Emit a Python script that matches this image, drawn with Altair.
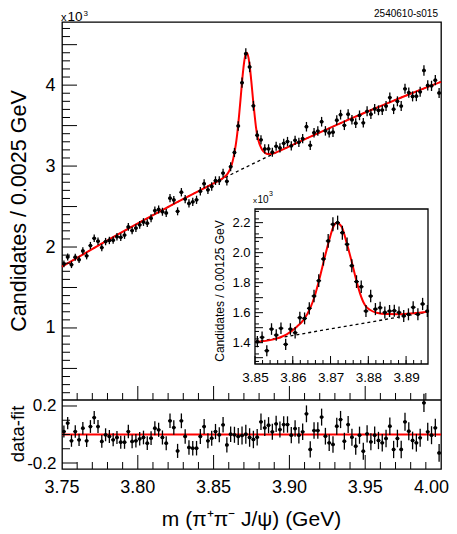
import altair as alt
import pandas as pd

FONT = "Liberation Sans"

# ---------------- data ----------------
# main histogram, 100 bins of 0.0025 GeV from 3.75 to 4.00
counts = [1792, 1878, 1782, 1874, 1844, 1952, 1891, 2018, 2108, 2072,
          1993, 2067, 2081, 2085, 2127, 2120, 2147, 2248, 2204, 2234,
          2274, 2309, 2294, 2355, 2450, 2464, 2436, 2421, 2603, 2581,
          2441, 2677, 2592, 2539, 2558, 2583, 2689, 2783, 2707, 2749,
          2820, 2820, 2914, 2812, 2992, 3168, 3496, 4030, 4389, 4225,
          3745, 3381, 3324, 3212, 3213, 3171, 3245, 3224, 3281, 3303,
          3250, 3318, 3293, 3339, 3486, 3257, 3412, 3433, 3548, 3435,
          3410, 3419, 3567, 3635, 3504, 3641, 3572, 3530, 3627, 3535,
          3677, 3641, 3706, 3689, 3692, 3742, 3847, 3703, 3800, 3742,
          3955, 3908, 3861, 3864, 3918, 4181, 3996, 3991, 4061, 3903]

# residuals (data - fit), in units of 10^3
resid = [0.021, 0.080, -0.044, 0.021, -0.037, 0.044, -0.044, 0.056, 0.119, 0.056,
         -0.049, -0.002, -0.014, -0.037, -0.021, -0.054, -0.054, 0.021, -0.049, -0.044,
         -0.030, -0.021, -0.061, -0.026, 0.044, 0.033, -0.021, -0.061, 0.096, 0.049,
         -0.115, 0.096, -0.014, -0.091, -0.096, -0.096, -0.014, 0.056, -0.044, -0.026,
         0.021, -0.002, 0.068, -0.073, 0.002, -0.002, -0.014, -0.007, 0.002, -0.021,
         -0.035, -0.019, 0.089, 0.047, 0.065, 0.019, 0.075, 0.035, 0.070, 0.070,
         -0.005, 0.042, -0.005, 0.019, 0.145, -0.105, 0.028, 0.028, 0.122, -0.012,
         -0.058, -0.070, 0.058, 0.105, -0.047, 0.070, -0.019, -0.082, -0.005, -0.117,
         0.005, -0.051, -0.005, -0.042, -0.058, -0.028, 0.058, -0.105, -0.028, -0.105,
         0.089, 0.023, -0.042, -0.058, -0.023, 0.222, 0.019, -0.005, 0.047, -0.129]

# fit curve (red) of the main panel
fit_x = [3.75, 3.7625, 3.775, 3.7875, 3.80, 3.8125, 3.825, 3.8375, 3.85, 3.854,
         3.858, 3.859, 3.860, 3.861, 3.862, 3.863, 3.864, 3.865, 3.866, 3.867,
         3.868, 3.869, 3.870, 3.871, 3.872, 3.873, 3.874, 3.875, 3.876, 3.877,
         3.878, 3.879, 3.880, 3.881, 3.882, 3.883, 3.884, 3.885, 3.886, 3.887,
         3.888, 3.889, 3.890, 3.90, 3.9125, 3.925, 3.9375, 3.95, 3.9625, 3.975,
         3.9875, 4.00]
fit_y = [1757, 1894, 2029, 2161, 2291, 2419, 2544, 2667, 2787, 2825,
         2880, 2900, 2930, 2968, 3020, 3095, 3190, 3310, 3470, 3665,
         3875, 4088, 4262, 4372, 4399, 4340, 4206, 4024, 3825, 3640,
         3475, 3360, 3290, 3240, 3203, 3178, 3162, 3153, 3149, 3148,
         3150, 3154, 3160, 3244, 3352, 3457, 3561, 3662, 3760, 3856,
         3950, 4041]

# background (dashed) of the main panel
bg_x = [3.75, 3.7625, 3.775, 3.7875, 3.80, 3.8125, 3.825, 3.8375, 3.85, 3.8625,
        3.875, 3.8875, 3.90, 3.9125, 3.925, 3.9375, 3.95, 3.9625, 3.975, 3.9875, 4.00]
bg_y = [1757, 1894, 2029, 2161, 2291, 2419, 2544, 2667, 2787, 2905,
        3020, 3133, 3244, 3352, 3457, 3561, 3662, 3760, 3856, 3950, 4041]

# inset histogram, bins of 0.00125 GeV from 3.85, in units of 10^3
inset_counts = [1.407, 1.436, 1.347, 1.491, 1.451, 1.496, 1.389, 1.491, 1.467, 1.567,
                1.562, 1.629, 1.711, 1.813, 1.958, 2.078, 2.189, 2.200, 2.133, 2.056,
                1.913, 1.807, 1.773, 1.611, 1.711, 1.624, 1.633, 1.602, 1.611, 1.613,
                1.602, 1.578, 1.589, 1.636, 1.589, 1.658, 1.611]
inset_fit_x = [3.8500, 3.8549, 3.8584, 3.8610, 3.8628, 3.8646, 3.8659, 3.8672, 3.8685, 3.8699,
               3.8707, 3.8716, 3.8730, 3.8743, 3.8756, 3.8768, 3.8778, 3.8791, 3.8805, 3.8822,
               3.8849, 3.8884, 3.8919, 3.8958]
inset_fit_y = [1.405, 1.422, 1.456, 1.505, 1.551, 1.629, 1.718, 1.840, 1.973, 2.107,
               2.170, 2.200, 2.170, 2.062, 1.940, 1.818, 1.729, 1.651, 1.618, 1.600,
               1.591, 1.590, 1.596, 1.606]
inset_bg_x = [3.8500, 3.8958]
inset_bg_y = [1.405, 1.604]

main_x_ticks = [3.75, 3.80, 3.85, 3.90, 3.95, 4.00]
main_x_labels = ["3.75", "3.80", "3.85", "3.90", "3.95", "4.00"]
main_y_ticks = [1000, 2000, 3000, 4000]
res_y_ticks = [-0.2, 0.2]
inset_x_ticks = [3.85, 3.86, 3.87, 3.88, 3.89]
inset_y_ticks = [1.4, 1.6, 1.8, 2.0, 2.2]

# ---------------- tables ----------------
BW = 0.0025
centers = [round(3.75 + BW * (i + 0.5), 6) for i in range(len(counts))]
main_df = pd.DataFrame({"m": centers, "c": counts, "r": resid})
main_df["e"] = main_df["c"] ** 0.5
main_df["lo"] = main_df["c"] - main_df["e"]
main_df["hi"] = main_df["c"] + main_df["e"]
main_df["xl"] = main_df["m"] - BW / 2
main_df["xh"] = main_df["m"] + BW / 2
main_df["re"] = main_df["e"] / 1000.0
main_df["rlo"] = main_df["r"] - main_df["re"]
main_df["rhi"] = main_df["r"] + main_df["re"]

IBW = 0.00125
icenters = [round(3.85 + IBW * (i + 0.5), 6) for i in range(len(inset_counts))]
in_df = pd.DataFrame({"m": icenters, "c": inset_counts})
in_df["e"] = (in_df["c"] * 1000) ** 0.5 / 1000
in_df["lo"] = in_df["c"] - in_df["e"]
in_df["hi"] = in_df["c"] + in_df["e"]
in_df["xl"] = in_df["m"] - IBW / 2
in_df["xh"] = (in_df["m"] + IBW / 2).clip(upper=3.8958)

fit_df = pd.DataFrame({"x": fit_x, "y": fit_y})
bg_df = pd.DataFrame({"x": bg_x, "y": bg_y})
ifit_df = pd.DataFrame({"x": inset_fit_x, "y": inset_fit_y})
ibg_df = pd.DataFrame({"x": inset_bg_x, "y": inset_bg_y})
ONE = pd.DataFrame({"k": [0]})

# ---------------- geometry ----------------
W, H, MH = 379, 447, 378


def XM():
    return alt.Scale(domain=[3.75, 4.0], range=[0, W], nice=False, zero=False)


def YM():
    return alt.Scale(domain=[110, 4780], range=[MH, 0], nice=False, zero=False)


def YR():
    return alt.Scale(domain=[-0.242, 0.242], range=[H, MH], nice=False, zero=False)


def XI():
    return alt.Scale(domain=[3.85, 3.8958], range=[193, 366], nice=False, zero=False)


def YI():
    return alt.Scale(domain=[1.258, 2.291], range=[342, 187], nice=False, zero=False)


def lab_axis(**kw):
    base = dict(ticks=False, domain=False, grid=False, title=None, labelFont=FONT,
                labelColor="black", labelFlush=False, labelOverlap=False, labelBound=False)
    base.update(kw)
    return alt.Axis(**base)


def txt(s, x, y, size, angle=0, align="left", baseline="alphabetic"):
    return alt.Chart(ONE).mark_text(text=s, fontSize=size, font=FONT, angle=angle, align=align,
                                    baseline=baseline, color="black").encode(
        x=alt.value(x), y=alt.value(y))


def xticks(vals, xs, y0, length):
    d = pd.DataFrame({"v": vals})
    return alt.Chart(d).mark_rule(color="black", strokeWidth=1).encode(
        x=alt.X("v:Q", scale=xs, axis=None), y=alt.value(y0), y2=alt.value(y0 - length))


def yticks(vals, ys, x0, length):
    d = pd.DataFrame({"v": vals})
    return alt.Chart(d).mark_rule(color="black", strokeWidth=1).encode(
        y=alt.Y("v:Q", scale=ys, axis=None), x=alt.value(x0), x2=alt.value(x0 + length))


def rng(a, b, step):
    n = int(round((b - a) / step))
    return [round(a + step * i, 6) for i in range(n + 1)]


layers = []

# ---------------- main panel ----------------
mb = alt.Chart(main_df)
m_axis_layer = alt.Chart(pd.DataFrame({"y": [1000]})).mark_point(opacity=0).encode(
    y=alt.Y("y:Q", scale=YM(), axis=lab_axis(values=main_y_ticks, labelExpr="datum.value/1000",
                                              labelFontSize=18, labelPadding=7, orient="left")))
m_errv = mb.mark_rule(color="black", strokeWidth=1.3).encode(
    x=alt.X("m:Q", scale=XM(), axis=None), y=alt.Y("lo:Q", scale=YM(), axis=None), y2="hi:Q")
m_errh = mb.mark_rule(color="black", strokeWidth=1.3).encode(
    x=alt.X("xl:Q", scale=XM(), axis=None), x2="xh:Q", y=alt.Y("c:Q", scale=YM(), axis=None))
m_dots = mb.mark_circle(size=14, color="black", opacity=1).encode(
    x=alt.X("m:Q", scale=XM(), axis=None), y=alt.Y("c:Q", scale=YM(), axis=None))
m_bg = alt.Chart(bg_df).mark_line(color="black", strokeWidth=1.3, strokeDash=[3, 3],
                                  interpolate="monotone").encode(
    x=alt.X("x:Q", scale=XM(), axis=None), y=alt.Y("y:Q", scale=YM(), axis=None))
m_fit = alt.Chart(fit_df).mark_line(color="#ff0000", strokeWidth=2, interpolate="monotone").encode(
    x=alt.X("x:Q", scale=XM(), axis=None), y=alt.Y("y:Q", scale=YM(), axis=None))

y_major = rng(500, 4500, 500)
y_minor = [v for v in rng(200, 4700, 100) if v % 500 != 0]
x_major = rng(3.80, 3.95, 0.05)
x_minor = [v for v in rng(3.76, 3.99, 0.01) if v not in x_major]

layers += [
    m_axis_layer, m_bg, m_fit, m_errv, m_errh, m_dots,
    yticks(y_major, YM(), 0, 15), yticks(y_minor, YM(), 0, 8),
    xticks(x_major, XM(), MH, 14), xticks(x_minor, XM(), MH, 7),
    txt("x", -1, -1, 11), txt("10", 5.5, -1, 13.5), txt("3", 21.5, -6, 8),
    txt("2540610-s015", 376, -5, 10, align="right"),
    txt("Candidates / 0.0025 GeV", -42, 189, 21.5, angle=270, align="center", baseline="middle"),
]

# ---------------- residual panel ----------------
r_axis_layer = alt.Chart(pd.DataFrame({"y": [0.0]})).mark_point(opacity=0).encode(
    y=alt.Y("y:Q", scale=YR(), axis=lab_axis(values=res_y_ticks, labelFontSize=17, labelPadding=6,
                                              orient="left",
                                              labelExpr="datum.value < 0 ? '-' + format(-datum.value, '.1f') : format(datum.value, '.1f')")))
xlab_df = pd.DataFrame({"v": main_x_ticks, "t": main_x_labels})
x_lab_mid = alt.Chart(xlab_df.iloc[:-1]).mark_text(fontSize=18, font=FONT, baseline="top",
                                                    align="center", color="black").encode(
    x=alt.X("v:Q", scale=XM(), axis=None), y=alt.value(H + 10), text="t:N")
x_lab_end = alt.Chart(xlab_df.iloc[-1:]).mark_text(fontSize=18, font=FONT, baseline="top",
                                                    align="right", dx=8, color="black").encode(
    x=alt.X("v:Q", scale=XM(), axis=None), y=alt.value(H + 10), text="t:N")
r_errv = mb.mark_rule(color="black", strokeWidth=1.3).encode(
    x=alt.X("m:Q", scale=XM(), axis=None), y=alt.Y("rlo:Q", scale=YR(), axis=None), y2="rhi:Q")
r_errh = mb.mark_rule(color="black", strokeWidth=1.3).encode(
    x=alt.X("xl:Q", scale=XM(), axis=None), x2="xh:Q", y=alt.Y("r:Q", scale=YR(), axis=None))
r_dots = mb.mark_circle(size=14, color="black", opacity=1).encode(
    x=alt.X("m:Q", scale=XM(), axis=None), y=alt.Y("r:Q", scale=YR(), axis=None))
zero_df = pd.DataFrame({"x": [3.75], "x2": [4.0], "y": [0.0], "top": [0.242]})
r_zero = alt.Chart(zero_df).mark_rule(color="#ff0000", strokeWidth=2).encode(
    x=alt.X("x:Q", scale=XM(), axis=None), x2="x2:Q", y=alt.Y("y:Q", scale=YR(), axis=None))
r_top = alt.Chart(zero_df).mark_rule(color="black", strokeWidth=1.3).encode(
    x=alt.X("x:Q", scale=XM(), axis=None), x2="x2:Q", y=alt.Y("top:Q", scale=YR(), axis=None))

layers += [
    r_axis_layer, x_lab_mid, x_lab_end, r_zero, r_errv, r_errh, r_dots, r_top,
    yticks([-0.2, 0.2], YR(), 0, 15), yticks([-0.1, 0.0, 0.1], YR(), 0, 8),
    txt("data-fit", -44, 412, 18.5, angle=270, align="center", baseline="middle"),
    xticks(x_major, XM(), H, 14), xticks(x_minor, XM(), H, 7),
    txt("m (\u03c0\u207a\u03c0\u207b J/\u03c8) (GeV)", 189.5, 504, 21, align="center"),
]

# ---------------- inset ----------------
frame_df = pd.DataFrame({"x": [3.85], "x2": [3.8958], "y": [1.258], "y2": [2.291]})
i_frame = alt.Chart(frame_df).mark_rect(fill="white", stroke="black", strokeWidth=1.3).encode(
    x=alt.X("x:Q", scale=XI(), axis=lab_axis(values=inset_x_ticks, format=".2f", labelFontSize=13.5,
                                              labelPadding=6, orient="bottom", offset=-105)),
    x2="x2:Q",
    y=alt.Y("y:Q", scale=YI(), axis=lab_axis(values=inset_y_ticks, format=".1f", labelFontSize=13,
                                              labelPadding=5, orient="left", offset=-193)),
    y2="y2:Q")
ib = alt.Chart(in_df)
i_errv = ib.mark_rule(color="black", strokeWidth=1.3).encode(
    x=alt.X("m:Q", scale=XI(), axis=None), y=alt.Y("lo:Q", scale=YI(), axis=None), y2="hi:Q")
i_errh = ib.mark_rule(color="black", strokeWidth=1.3).encode(
    x=alt.X("xl:Q", scale=XI(), axis=None), x2="xh:Q", y=alt.Y("c:Q", scale=YI(), axis=None))
i_dots = ib.mark_circle(size=14, color="black", opacity=1).encode(
    x=alt.X("m:Q", scale=XI(), axis=None), y=alt.Y("c:Q", scale=YI(), axis=None))
i_bg = alt.Chart(ibg_df).mark_line(color="black", strokeWidth=1.3, strokeDash=[3, 3]).encode(
    x=alt.X("x:Q", scale=XI(), axis=None), y=alt.Y("y:Q", scale=YI(), axis=None))
i_fit = alt.Chart(ifit_df).mark_line(color="#ff0000", strokeWidth=2, interpolate="monotone").encode(
    x=alt.X("x:Q", scale=XI(), axis=None), y=alt.Y("y:Q", scale=YI(), axis=None))

iy_major = rng(1.3, 2.2, 0.1)
iy_minor = rng(1.275, 2.275, 0.05)
ix_major = rng(3.85, 3.89, 0.01)
ix_minor = rng(3.852, 3.894, 0.002)

layers += [
    i_frame, i_bg, i_fit, i_errv, i_errh, i_dots,
    yticks(iy_major, YI(), 193, 8), yticks(iy_minor, YI(), 193, 4),
    xticks(ix_major, XI(), 342, 8), xticks(ix_minor, XI(), 342, 4),
    txt("x", 191, 181, 8), txt("10", 195.5, 181, 10), txt("3", 207, 174, 7),
    txt("Candidates / 0.00125 GeV", 158, 269, 12, angle=270, align="center", baseline="middle"),
]

chart = alt.layer(*layers).resolve_scale(
    x="independent", y="independent").resolve_axis(x="independent", y="independent").properties(
    width=W, height=H,
    autosize=alt.AutoSizeParams(type="none"),
    padding={"left": 54, "top": 14, "right": 8, "bottom": 65},
).configure_view(stroke="black", strokeWidth=1.3)

chart.save("out.html", embed_options={"renderer": "svg", "actions": False})
